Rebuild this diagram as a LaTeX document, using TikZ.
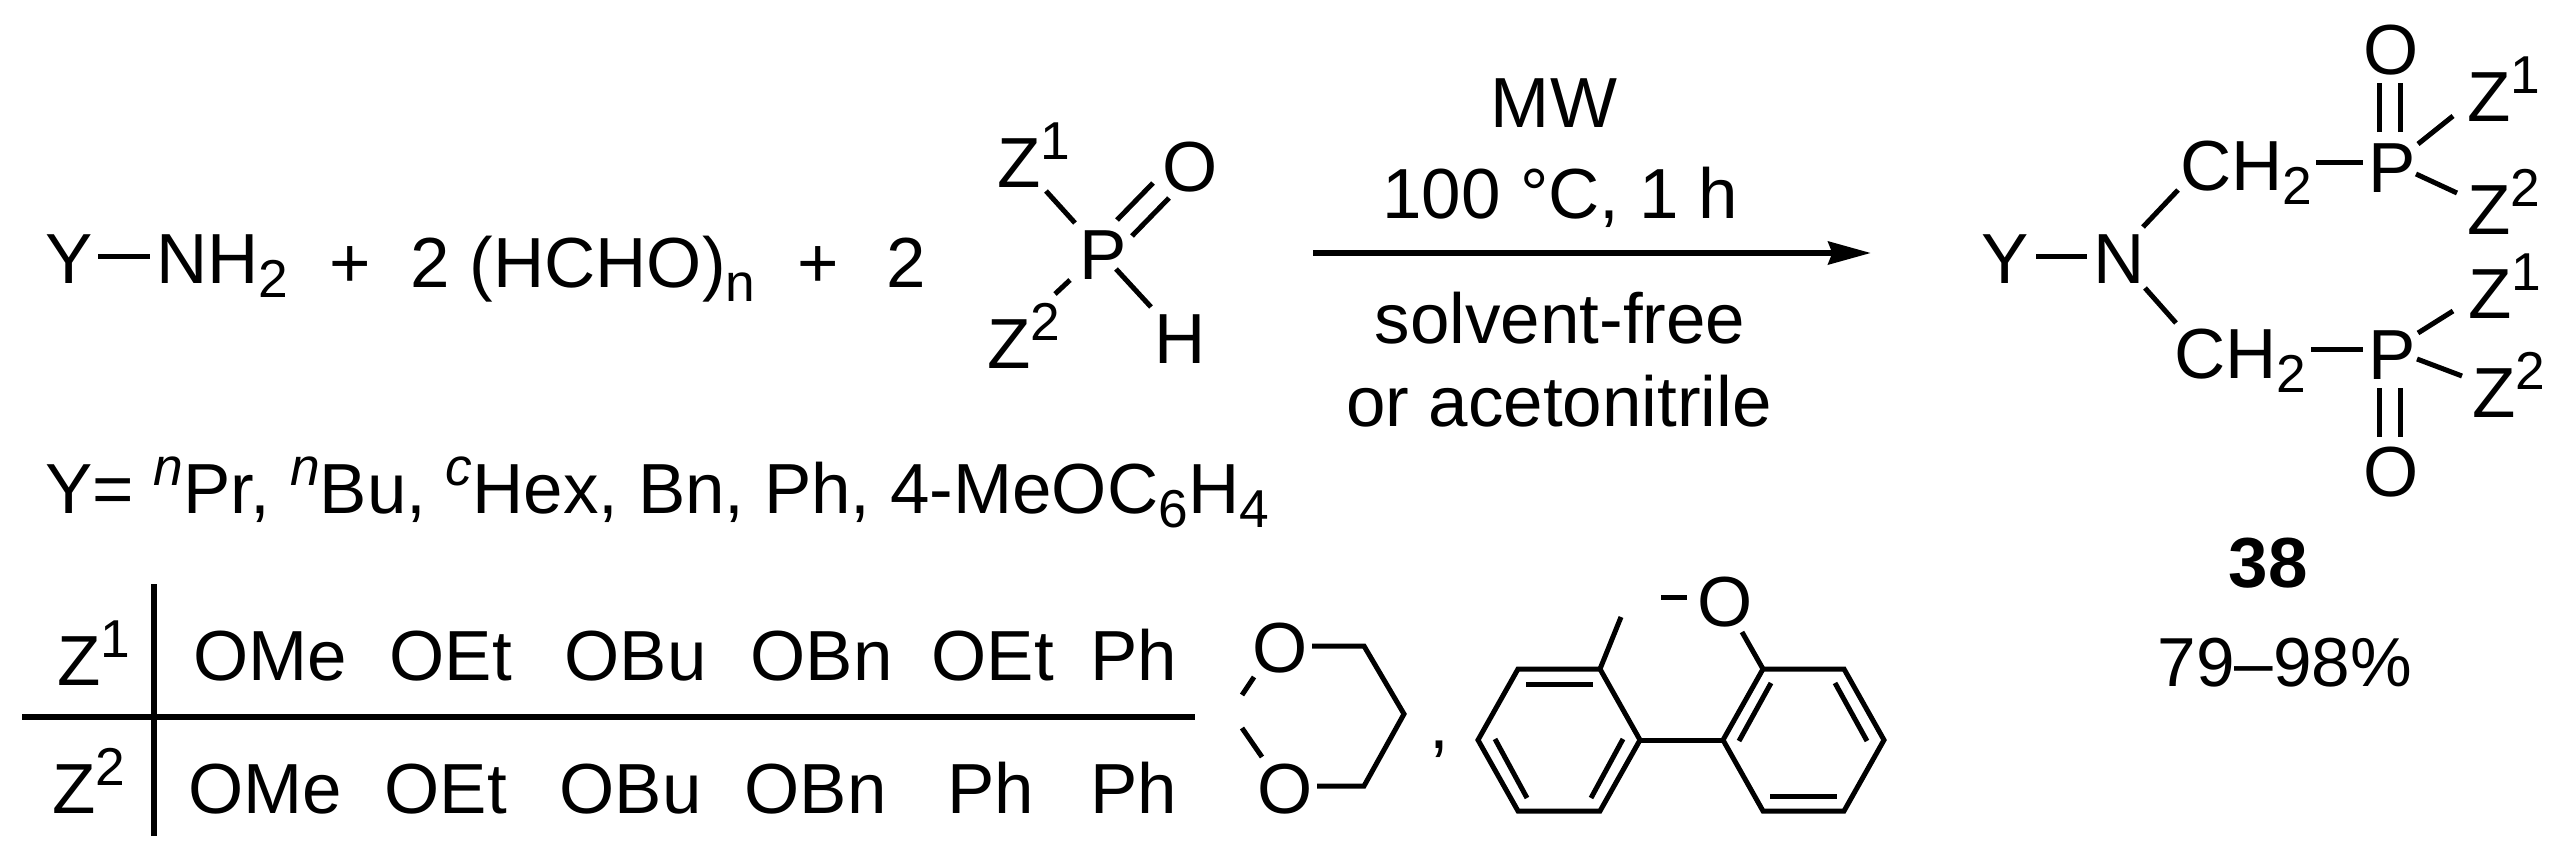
\documentclass[tikz,border=0pt]{standalone}
\usepackage{fontspec}
\setmainfont{Liberation Sans}
\usetikzlibrary{arrows.meta}

\newcommand{\suptxt}[1]{\raisebox{21pt}{\fontsize{40}{40}\selectfont #1}}
\newcommand{\supita}[1]{\raisebox{21pt}{\fontsize{40}{40}\selectfont\itshape #1}}
\newcommand{\subtxt}[1]{\raisebox{-10.5pt}{\fontsize{40}{40}\selectfont #1}}

\tikzset{every picture/.style={line width=3.75pt}}
\tikzset{atom/.style={anchor=base west,inner sep=0pt,font=\fontsize{53.2}{60}\selectfont}}
\tikzset{label/.style={anchor=base,inner sep=0pt,font=\fontsize{53.2}{60}\selectfont}}
\tikzset{bond/.style={line width=3.75pt}}
\tikzset{rule/.style={line width=4.5pt}}

\begin{document}
\begin{tikzpicture}[x=0.75pt,y=0.75pt,yscale=-1,xscale=1]
	\useasboundingbox (0,0) rectangle (2567,860);
	%Amine
	\draw (43,283) node (ya) [atom] {Y};
	\draw (154,283) node (na) [atom] {NH\subtxt{2}};
	\draw [bond] ([shift={(55,-27)}]ya.base west) -- ([shift={(-4,-27)}]na.base west);
	\draw (327,287) node (plusa) [atom] {+};
	\draw (408,287) node (hcho) [atom] {2 (HCHO)\subtxt{n}};
	\draw (795,287) node (plusb) [atom] {+};
	\draw (884,287) node (twob) [atom] {2};
	%Phosphorus reagent
	\draw (995,187) node (zqa) [atom] {Z\suptxt{1}};
	\draw (985,368) node (zqb) [atom] {Z\suptxt{2}};
	\draw (1077,279) node (pq) [atom] {P};
	\draw (1160,191) node (oq) [atom] {O};
	\draw (1152,363) node (hq) [atom] {H};
	\draw [bond] ([shift={(51,4)}]zqa.base west) -- ([shift={(-2,-56)}]pq.base west);
	\draw [bond] ([shift={(40,-59)}]pq.base west) -- ([shift={(-7,-8)}]oq.base west);
	\draw [bond] ([shift={(55,-43)}]pq.base west) -- ([shift={(9,7)}]oq.base west);
	\draw [bond] ([shift={(-7,1)}]pq.base west) -- ([shift={(70,-74)}]zqb.base west);
	\draw [bond] ([shift={(39,-10)}]pq.base west) -- ([shift={(-1,-56)}]hq.base west);
	%Reaction arrow
	\coordinate (arra) at (1313,253);
	\coordinate (arrb) at (1871,253);
	\draw [rule,-{Stealth[length=32pt,width=17pt,inset=3pt]}] (arra) -- (arrb);
	\draw (1554,127) node (cmw) [label] {MW};
	\draw (1560,218) node (ctemp) [label] {100 °C, 1 h};
	\draw (1560,343) node (csolv) [label] {solvent-free};
	\draw (1559,426) node (cacn) [label] {or acetonitrile};
	%Product
	\draw (1979,283) node (yp) [atom] {Y};
	\draw (2091,283) node (np) [atom] {N};
	\draw (2178,190) node (cha) [atom] {CH\subtxt{2}};
	\draw (2172,378) node (chb) [atom] {CH\subtxt{2}};
	\draw (2366,192) node (pa) [atom] {P};
	\draw (2366,379) node (pb) [atom] {P};
	\draw (2361,74) node (oa) [atom] {O};
	\draw (2361,496) node (ob) [atom] {O};
	\draw (2465,121) node (zaa) [atom] {Z\suptxt{1}};
	\draw (2465,234) node (zab) [atom] {Z\suptxt{2}};
	\draw (2466,318) node (zba) [atom] {Z\suptxt{1}};
	\draw (2470,417) node (zbb) [atom] {Z\suptxt{2}};
	\draw [bond] ([shift={(57,-27)}]yp.base west) -- ([shift={(-4,-27)}]np.base west);
	\draw [bond] ([shift={(52,-56)}]np.base west) -- (cha.base west);
	\draw [bond] ([shift={(54,5)}]np.base west) -- ([shift={(4,-55)}]chb.base west);
	\draw [bond] ([shift={(138,-28)}]cha.base west) -- ([shift={(-3,-30)}]pa.base west);
	\draw [bond] ([shift={(139,-29)}]chb.base west) -- ([shift={(-3,-30)}]pb.base west);
	\draw [bond] ([shift={(13,-60)}]pa.base west) -- ([shift={(18,9)}]oa.base west);
	\draw [bond] ([shift={(34,-60)}]pa.base west) -- ([shift={(39,9)}]oa.base west);
	\draw [bond] ([shift={(13,9)}]pb.base west) -- ([shift={(18,-59)}]ob.base west);
	\draw [bond] ([shift={(34,9)}]pb.base west) -- ([shift={(39,-59)}]ob.base west);
	\draw [bond] ([shift={(52,-48)}]pa.base west) -- ([shift={(-12,-5)}]zaa.base west);
	\draw [bond] ([shift={(50,-18)}]pa.base west) -- ([shift={(-8,-41)}]zab.base west);
	\draw [bond] ([shift={(52,-46)}]pb.base west) -- ([shift={(-13,-7)}]zba.base west);
	\draw [bond] ([shift={(51,-20)}]pb.base west) -- ([shift={(-8,-41)}]zbb.base west);
	\draw (2268,587) node (numb) [label] {\bfseries 38};
	\draw (2155,686) node (yield) [atom,font=\fontsize{52}{60}\selectfont] {79–98\%};
	%Substituents
	\draw (43,513) node (ylist) [atom] {Y= \supita{n}Pr, \supita{n}Bu, \supita{c}Hex, Bn, Ph, 4-MeOC\subtxt{6}H\subtxt{4}};
	%Table
	\coordinate (tvt) at (154,584);
	\coordinate (tvb) at (154,836);
	\coordinate (thl) at (22,717);
	\coordinate (thr) at (1195,717);
	\draw [rule] (tvt) -- (tvb);
	\draw [rule] (thl) -- (thr);
	\draw (55,685) node (zta) [atom] {Z\suptxt{1}};
	\draw (50,813) node (ztb) [atom] {Z\suptxt{2}};
	\draw (191,680) node (raa) [atom] {OMe};
	\draw (387,680) node (rab) [atom] {OEt};
	\draw (562,680) node (rac) [atom] {OBu};
	\draw (748,680) node (rad) [atom] {OBn};
	\draw (929,680) node (rae) [atom] {OEt};
	\draw (1088,680) node (raf) [atom] {Ph};
	\draw (186,813) node (rba) [atom] {OMe};
	\draw (382,813) node (rbb) [atom] {OEt};
	\draw (557,813) node (rbc) [atom] {OBu};
	\draw (742,813) node (rbd) [atom] {OBn};
	\draw (945,813) node (rbe) [atom] {Ph};
	\draw (1088,813) node (rbf) [atom] {Ph};
	%Dioxane ring
	\draw (1250,672) node (oda) [atom] {O};
	\draw (1255,813) node (odb) [atom] {O};
	\coordinate (dxa) at (1364,646);
	\coordinate (dxb) at (1404,714);
	\coordinate (dxc) at (1364,786);
	\coordinate (dxd) at (1242,695);
	\coordinate (dxe) at (1242,728);
	\draw [bond] ([shift={(62,-26)}]oda.base west) -- (dxa) -- (dxb) -- (dxc) -- ([shift={(62,-27)}]odb.base west);
	\draw [bond] ([shift={(4,5)}]oda.base west) -- (dxd);
	\draw [bond] (dxe) -- ([shift={(7,-56)}]odb.base west);
	\draw (1427,748) node (comma) [atom] {,};
	%Biphenyl rings
	\coordinate (la) at (1518,669);
	\coordinate (lb) at (1600,669);
	\coordinate (lc) at (1640,740);
	\coordinate (ld) at (1600,811);
	\coordinate (le) at (1518,811);
	\coordinate (lf) at (1478,740);
	\coordinate (ra) at (1763,669);
	\coordinate (rb) at (1844,669);
	\coordinate (rc) at (1884,740);
	\coordinate (rd) at (1844,811);
	\coordinate (re) at (1763,811);
	\coordinate (rf) at (1723,740);
	\coordinate (me) at (1621,617);
	\draw [bond] (la) -- (lb) -- (lc) -- (ld) -- (le) -- (lf) -- cycle;
	\draw [bond] (ra) -- (rb) -- (rc) -- (rd) -- (re) -- (rf) -- cycle;
	\draw [bond] (lc) -- (rf);
	\draw [bond] (lb) -- (me);
	\draw [bond] (1526,684) -- (1593,684);
	\draw [bond] (1495,739) -- (1527,798);
	\draw [bond] (1623,739) -- (1591,798);
	\draw [bond] (1771,683) -- (1739,741);
	\draw [bond] (1835,683) -- (1867,741);
	\draw [bond] (1770,796) -- (1837,796);
	\draw (1695,626) node (obp) [atom] {O};
	\draw [bond] ([shift={(-34,-29)}]obp.base west) -- ([shift={(-8,-29)}]obp.base west);
	\draw [bond] ([shift={(47,6)}]obp.base west) -- (ra);
\end{tikzpicture}
\end{document}
